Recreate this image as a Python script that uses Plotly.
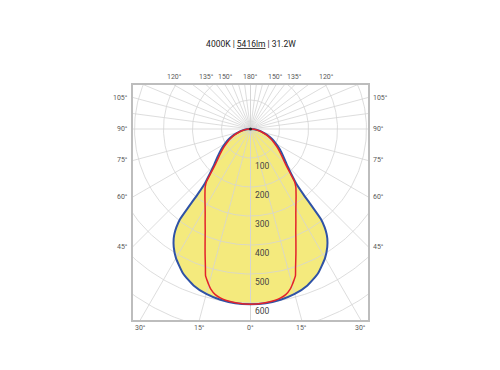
import numpy as np
import plotly.graph_objects as go

# ---------------- data ----------------
title_parts = ["4000K", "5416lm", "31.2W"]

# C0-C180 plane (blue, filled)
angles_c0 = [0, 5, 10, 15, 20, 25, 30, 33, 35, 36, 37, 38, 38.5, 39, 40, 42, 45, 50, 55, 60, 65, 70, 75, 80, 85, 90]
intensity_c0 = [604, 603, 598, 589, 574, 550, 514, 486, 462, 446, 425, 395, 340, 290, 245, 212, 180, 148, 124, 102, 82, 62, 44, 28, 13, 0]

# C90-C270 plane (red)
angles_c90 = [0, 4, 8, 10, 12, 14, 15, 16, 17, 18, 20, 22, 24, 26, 28, 30, 32, 34, 36, 38, 40, 42, 45, 50, 55, 60, 65, 70, 75, 80, 85, 90]
intensity_c90 = [604, 602, 597, 592, 584, 568, 556, 543, 530, 503, 458, 418, 384, 357, 333, 313, 296, 281, 267, 254, 236, 204, 170, 138, 114, 93, 75, 57, 40, 25, 12, 0]

ring_values = [100, 200, 300, 400, 500, 600, 700]
ring_labels = ["100", "200", "300", "400", "500", "600"]
spoke_lower = [0, 15, 30, 45, 60, 75, 90]
spoke_upper = [97.5, 105, 112.5, 120, 127.5, 135, 142.5, 150, 157.5, 165, 172.5, 180]
top_tick_angles = [120, 135, 150, 180]
side_tick_angles = [105, 90, 75, 60, 45]
bottom_tick_angles = [0, 15, 30]

# ---------------- layout constants ----------------
X_HALF = 405.2
Y_TOP = 151.7
Y_BOT = -658.6
GRID = "#d4d4d4"
FRAME = "#bdbdbd"
LABEL = "#5a5a5a"
FONT = "Roboto"
OFF = 8  # page body margin compensation


def sym_curve(angles, vals):
    a = np.radians(np.array(angles, dtype=float))
    v = np.array(vals, dtype=float)
    xr = v * np.sin(a)
    yr = -v * np.cos(a)
    x = np.concatenate([xr[::-1], -xr[1:]])
    y = np.concatenate([yr[::-1], yr[1:]])
    return x, y


fig = go.Figure()

bx, by = sym_curve(angles_c0, intensity_c0)
fig.add_trace(go.Scatter(x=bx, y=by, mode="lines", fill="toself",
                         fillcolor="#F4EA7D",
                         line=dict(color="rgba(0,0,0,0)", width=0, shape="spline", smoothing=0.5),
                         hoverinfo="skip", showlegend=False))

t = np.linspace(0, 2 * np.pi, 361)
for r in ring_values:
    fig.add_trace(go.Scatter(x=r * np.sin(t), y=r * np.cos(t), mode="lines",
                             line=dict(color=GRID, width=0.8), hoverinfo="skip", showlegend=False))

R = 1200
for ang in spoke_lower + spoke_upper:
    a = np.radians(ang)
    for s in (1, -1):
        fig.add_trace(go.Scatter(x=[0, s * R * np.sin(a)], y=[0, -R * np.cos(a)], mode="lines",
                                 line=dict(color=GRID, width=0.8), hoverinfo="skip", showlegend=False))

rx, ry = sym_curve(angles_c90, intensity_c90)
fig.add_trace(go.Scatter(x=bx, y=by, mode="lines",
                         line=dict(color="#2F52A6", width=2, shape="spline", smoothing=0.5),
                         hoverinfo="skip", showlegend=False))
fig.add_trace(go.Scatter(x=rx, y=ry, mode="lines",
                         line=dict(color="#E3232B", width=1.5, shape="spline", smoothing=0.5),
                         hoverinfo="skip", showlegend=False))
fig.add_trace(go.Scatter(x=[0], y=[0], mode="markers", marker=dict(color="#222222", size=3),
                         hoverinfo="skip", showlegend=False))

annotations = []
for lab in ring_labels:
    v = float(lab)
    annotations.append(dict(x=0, y=-v, xref="x", yref="y", text=lab, showarrow=False,
                            xanchor="left", yanchor="top", xshift=2, yshift=-1,
                            font=dict(family=FONT, size=8.5, color="#444444")))

for ang in top_tick_angles:
    xv = Y_TOP * np.tan(np.radians(180 - ang))
    for s in ((1, -1) if ang != 180 else (1,)):
        annotations.append(dict(x=s * xv, y=1, xref="x", yref="paper", text=f"{ang}°",
                                showarrow=False, xanchor="center", yanchor="bottom", yshift=2,
                                font=dict(family=FONT, size=7, color=LABEL)))
for ang in side_tick_angles:
    a = np.radians(ang)
    yv = -X_HALF * np.cos(a) / np.sin(a)
    annotations.append(dict(x=1, y=yv, xref="paper", yref="y", text=f"{ang}°", showarrow=False,
                            xanchor="left", yanchor="middle", xshift=3,
                            font=dict(family=FONT, size=7, color=LABEL)))
    annotations.append(dict(x=0, y=yv, xref="paper", yref="y", text=f"{ang}°", showarrow=False,
                            xanchor="right", yanchor="middle", xshift=-3,
                            font=dict(family=FONT, size=7, color=LABEL)))
for ang in bottom_tick_angles:
    xv = -Y_BOT * np.tan(np.radians(ang))
    for s in ((1, -1) if ang != 0 else (1,)):
        annotations.append(dict(x=s * xv, y=0, xref="x", yref="paper", text=f"{ang}°",
                                showarrow=False, xanchor="center", yanchor="top", yshift=-2,
                                font=dict(family=FONT, size=7, color=LABEL)))

title_text = f"{title_parts[0]} | <u>{title_parts[1]}</u> | {title_parts[2]}"

fig.update_layout(
    width=500, height=370,
    margin=dict(l=133 - OFF, r=500 - 368 + OFF, t=85 - OFF, b=370 - 320 + OFF),
    paper_bgcolor="white", plot_bgcolor="white",
    title=dict(text=title_text, x=(251 - OFF) / 500, xanchor="center",
               y=1 - (44 - OFF) / 370, yanchor="middle",
               font=dict(family=FONT, size=8.5, color="#222222")),
    xaxis=dict(range=[-X_HALF, X_HALF], showgrid=False, zeroline=False, showticklabels=False,
               ticks="", showline=True, mirror=True, linecolor=FRAME, linewidth=1.5, fixedrange=True),
    yaxis=dict(range=[Y_BOT, Y_TOP], showgrid=False, zeroline=False, showticklabels=False,
               ticks="", showline=True, mirror=True, linecolor=FRAME, linewidth=1.5, fixedrange=True),
    annotations=annotations,
    showlegend=False,
)

fig.write_html("out.html")
